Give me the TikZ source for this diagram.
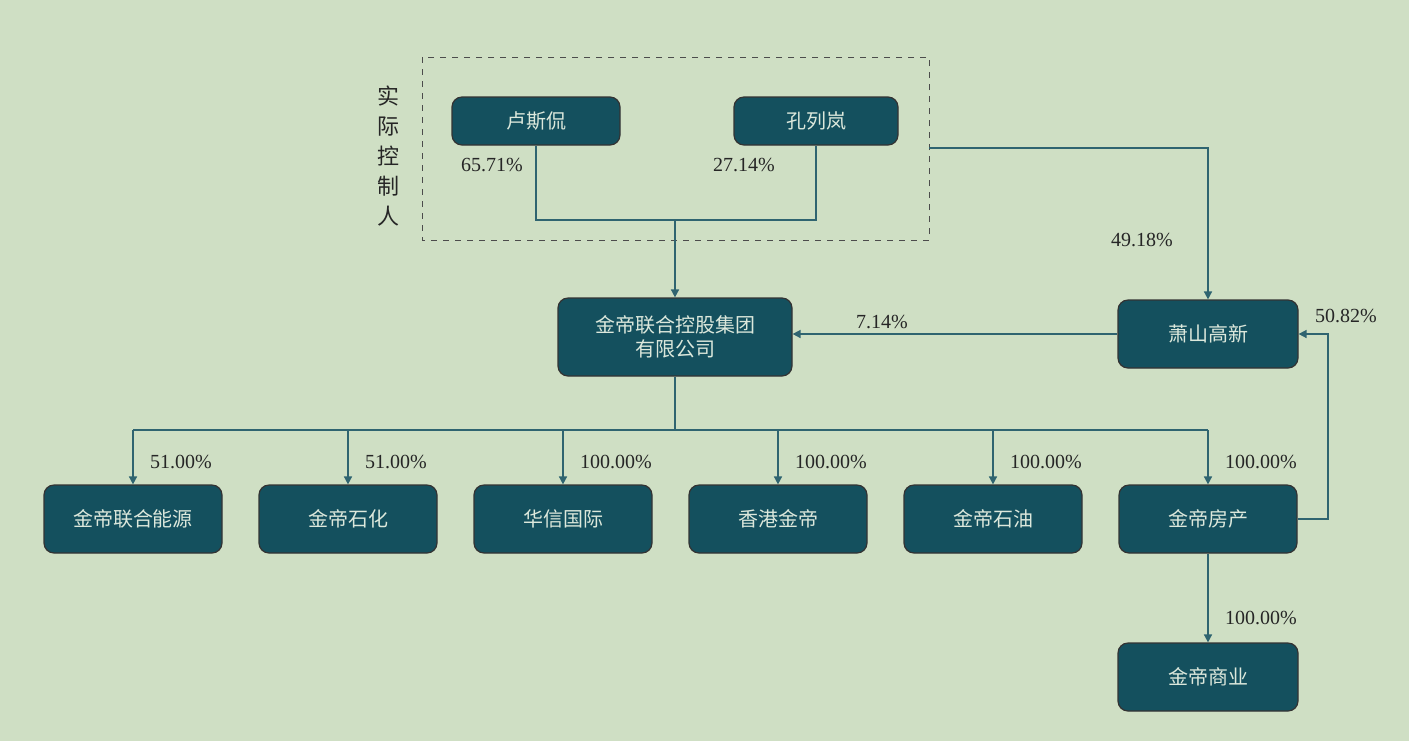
\documentclass[tikz,border=0pt]{standalone}
\usepackage{fontspec}
\setmainfont{Liberation Serif}
\newfontfamily\cjk{Noto Sans CJK SC}
\usetikzlibrary{arrows.meta}
\definecolor{bgcol}{HTML}{CFDFC4}
\definecolor{boxcol}{HTML}{14505E}
\definecolor{linecol}{HTML}{2F6470}
\definecolor{txtcol}{HTML}{DCE8DC}
\tikzset{
  entity/.style={draw=black!80,line width=0.6pt,fill=boxcol,rounded corners=5pt,
    text=txtcol,font=\cjk\fontsize{10}{12}\selectfont,align=center},
  link/.style={draw=linecol,line width=0.8pt},
  arr/.style={link,-{Triangle[length=4pt,width=4pt]}},
  pct/.style={font=\fontsize{10}{12}\selectfont,text=black!85}
}
\begin{document}
\begin{tikzpicture}[x=0.5pt,y=-0.5pt]
    \fill[bgcol] (0,0) rectangle (1409,741);
    \useasboundingbox (0,0) rectangle (1409,741);
    % Actual controllers
    \draw[black!70,dashed,line width=0.5pt] (422,57) rectangle (929,240);
    \node[font=\cjk\fontsize{11}{15}\selectfont,align=center,text=black!85] (ctrl) at (388,156) {实\\际\\控\\制\\人};
    \node[entity,minimum width=84pt,minimum height=24pt] (lu) at (536,121) {卢斯侃};
    \node[entity,minimum width=82pt,minimum height=24pt] (kong) at (816,121) {孔列岚};
    \coordinate (join) at (675,220);
    \coordinate (dr) at (929,148);
    % Holding companies
    \node[entity,minimum width=117pt,minimum height=39pt] (group) at (675,337) {金帝联合控股集团\\有限公司};
    \node[entity,minimum width=90pt,minimum height=34pt] (xs) at (1208,334) {萧山高新};
    % Subsidiaries
    \foreach \x/\n/\t in {133/a/金帝联合能源,348/b/金帝石化,563/c/华信国际,778/d/香港金帝,993/e/金帝石油,1208/f/金帝房产}
        \node[entity,minimum width=89pt,minimum height=34pt] (\n) at (\x,519) {\t};
    \node[entity,minimum width=90pt,minimum height=34pt] (shang) at (1208,677) {金帝商业};
    % Connectors
    \draw[link] (lu.south) |- (join) -| (kong.south);
    \draw[arr] (join) -- (group.north);
    \draw[arr] (dr) -| (xs.north);
    \draw[arr] (xs.west) -- (group.east |- xs.west);
    \coordinate (bus) at (675,430);
    \draw[link] (group.south) -- (bus);
    \draw[link] (133,430) -- (1208,430);
    \foreach \n in {a,b,c,d,e,f}
        \draw[arr] (\n.north |- bus) -- (\n.north);
    \draw[arr] (f.east) -- (1328,519) |- (xs.east);
    \draw[arr] (f.south) -- (shang.north);
    % Percentages
    \node[pct] at (492,165) {65.71\%};
    \node[pct] at (744,165) {27.14\%};
    \node[pct] at (1142,240) {49.18\%};
    \node[pct] at (882,322) {7.14\%};
    \node[pct] at (1346,316) {50.82\%};
    \foreach \x/\p in {133/51.00,348/51.00,563/100.00,778/100.00,993/100.00,1208/100.00}
        \node[pct,anchor=west] at (\x+10,462) {\p\%};
    \node[pct,anchor=west] at (1218,618) {100.00\%};
\end{tikzpicture}
\end{document}
